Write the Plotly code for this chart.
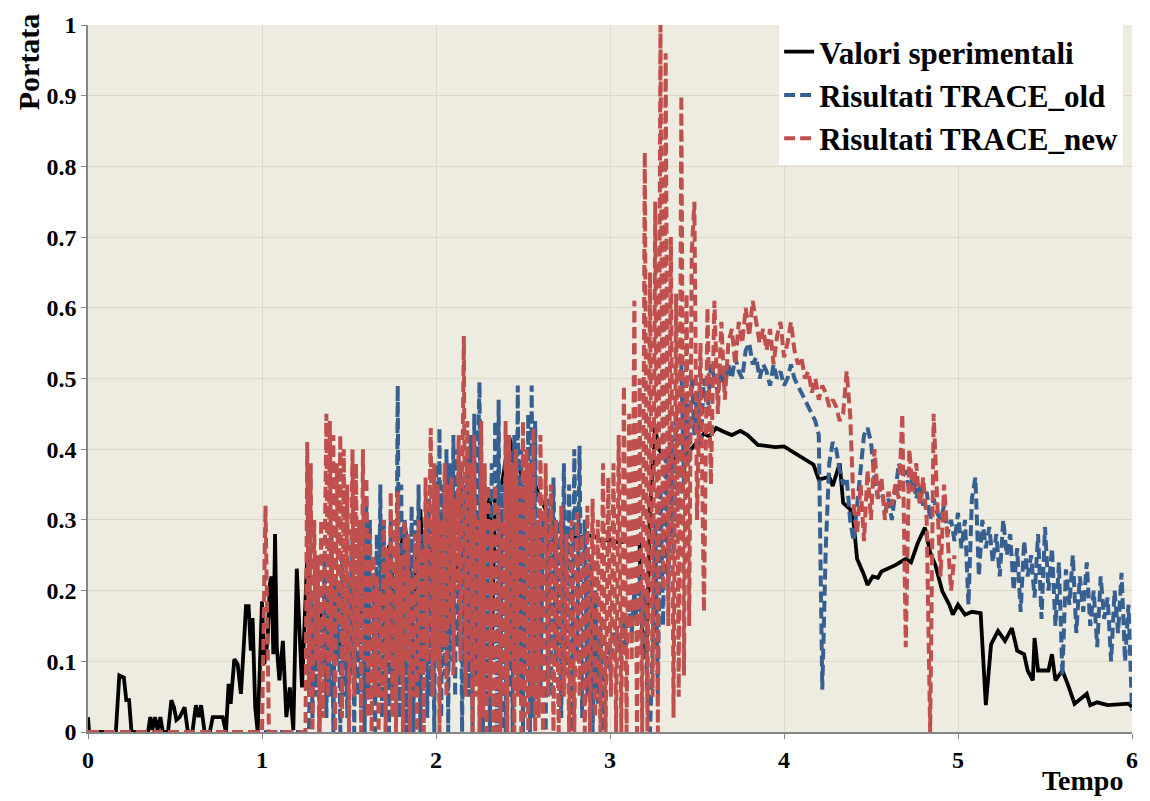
import numpy as np
import plotly.graph_objects as go

# ---------------- Valori sperimentali (solid black) ----------------
t_exp = [0.0, 0.006, 0.16, 0.18, 0.206, 0.22, 0.236, 0.25, 0.345, 0.358, 0.37, 0.385, 0.4, 0.416,
         0.43, 0.46, 0.479, 0.494, 0.508, 0.527, 0.555, 0.574, 0.6, 0.62, 0.636, 0.65, 0.67, 0.7,
         0.717, 0.774, 0.793, 0.808, 0.82, 0.841, 0.86, 0.879, 0.898, 0.908, 0.923, 0.936, 0.946,
         0.961, 0.975, 1.0, 1.013, 1.032, 1.045, 1.055, 1.065, 1.075, 1.085, 1.1, 1.12, 1.14, 1.16,
         1.18, 1.2, 1.23, 1.26, 1.28, 1.32, 1.38, 1.42, 1.46, 1.49, 1.53, 1.58, 1.62, 1.65, 1.68,
         1.7, 1.73, 1.76, 1.82, 1.84, 1.87, 1.91, 1.93, 1.98, 2.02, 2.04, 2.1, 2.16, 2.23, 2.27,
         2.29, 2.31, 2.32, 2.34, 2.38, 2.42, 2.45, 2.49, 2.55, 2.6, 2.66, 2.74, 2.8, 2.9, 2.95,
         3.0, 3.05, 3.1, 3.17, 3.19, 3.21, 3.23, 3.26, 3.28, 3.31, 3.35, 3.39, 3.45, 3.5, 3.54,
         3.57, 3.61, 3.65, 3.7, 3.75, 3.79, 3.85, 3.9, 3.95, 4.0, 4.07, 4.12, 4.17, 4.2, 4.26,
         4.28, 4.32, 4.34, 4.38, 4.4, 4.42, 4.46, 4.48, 4.51, 4.54, 4.56, 4.64, 4.7, 4.73, 4.77,
         4.81, 4.84, 4.87, 4.91, 4.95, 4.97, 5.0, 5.04, 5.08, 5.13, 5.16, 5.19, 5.23, 5.27, 5.31,
         5.34, 5.38, 5.4, 5.43, 5.44, 5.46, 5.52, 5.54, 5.56, 5.6, 5.63, 5.67, 5.74, 5.76, 5.8,
         5.86, 5.98, 6.0]
q_exp = [0.021, 0.0, 0.0, 0.08, 0.077, 0.045, 0.045, 0.0, 0.0, 0.021, 0.003, 0.021, 0.003, 0.021,
         0.0, 0.0, 0.045, 0.035, 0.017, 0.021, 0.035, 0.0, 0.0, 0.038, 0.021, 0.038, 0.0, 0.0,
         0.021, 0.021, 0.0, 0.068, 0.04, 0.103, 0.096, 0.054, 0.133, 0.178, 0.178, 0.115, 0.161,
         0.035, 0.0, 0.185, 0.096, 0.129, 0.21, 0.22, 0.11, 0.28, 0.12, 0.073, 0.129, 0.021, 0.063,
         0.003, 0.231, 0.063, 0.25, 0.166, 0.161, 0.175, 0.11, 0.134, 0.11, 0.157, 0.17, 0.129, 0.11, 0.17,
         0.212, 0.264, 0.194, 0.296, 0.25, 0.175, 0.315, 0.212, 0.269, 0.19, 0.285, 0.222, 0.255, 0.287, 0.273,
         0.287, 0.34, 0.11, 0.343, 0.352, 0.418, 0.39, 0.364, 0.362, 0.33, 0.3, 0.278, 0.275, 0.278, 0.27,
         0.272, 0.268, 0.27, 0.265, 0.105, 0.11, 0.317, 0.43, 0.4, 0.39, 0.39, 0.385, 0.395, 0.41, 0.422,
         0.418, 0.43, 0.425, 0.42, 0.426, 0.42, 0.406, 0.405, 0.403, 0.404, 0.393, 0.385, 0.378, 0.357, 0.361,
         0.348, 0.38, 0.324, 0.315, 0.296, 0.245, 0.222, 0.208, 0.22, 0.218, 0.227, 0.236, 0.245, 0.24, 0.268,
         0.289, 0.254, 0.236, 0.199, 0.18, 0.166, 0.18, 0.166, 0.17, 0.168, 0.038, 0.124, 0.143, 0.129, 0.147,
         0.115, 0.11, 0.087, 0.073, 0.133, 0.087, 0.087, 0.11, 0.073, 0.087, 0.068, 0.04, 0.054, 0.038, 0.042,
         0.038, 0.04, 0.035]

# ---------------- Risultati TRACE_old (blue dashed) ----------------
t_old_start = [0.0, 1.27]
q_old_start = [0.0, 0.0]

q_old_a = [  # 1.28 .. 2.60, step 0.01
    0.2, 0.02, 0.18, 0.05, 0.22, 0.0, 0.15, 0.08, 0.25, 0.02,
    0.2, 0.05, 0.28, 0.0, 0.22, 0.1, 0.2, 0.0, 0.25, 0.05,
    0.18, 0.02, 0.22, 0.08, 0.28, 0.0, 0.2, 0.05, 0.3, 0.02,
    0.25, 0.0, 0.33, 0.05, 0.3, 0.1, 0.22, 0.0, 0.28, 0.05,
    0.35, 0.02, 0.3, 0.08, 0.25, 0.0, 0.3, 0.05, 0.2, 0.1,
    0.49, 0.02, 0.35, 0.1, 0.3, 0.0, 0.28, 0.05, 0.32, 0.0,
    0.3, 0.05, 0.35, 0.0, 0.28, 0.1, 0.3, 0.02, 0.33, 0.05,
    0.3, 0.0, 0.38, 0.1, 0.43, 0.02, 0.35, 0.08, 0.4, 0.0,
    0.38, 0.1, 0.42, 0.05, 0.4, 0.12, 0.38, 0.0, 0.35, 0.1,
    0.4, 0.05, 0.42, 0.0, 0.45, 0.08, 0.38, 0.495, 0.1, 0.0,
    0.35, 0.05, 0.3, 0.0, 0.38, 0.1, 0.44, 0.0, 0.47, 0.02,
    0.35, 0.0, 0.0, 0.3, 0.05, 0.4, 0.0, 0.42, 0.1, 0.49,
    0.05, 0.4, 0.0, 0.35, 0.08, 0.45, 0.0, 0.49, 0.02, 0.44,
    0.1, 0.3, 0.05]

q_old_b = [  # 2.615 .. 3.50, step 0.015
    0.3, 0.0, 0.33, 0.05, 0.36, 0.1, 0.3, 0.02, 0.38,
    0.08, 0.35, 0.0, 0.4, 0.1, 0.405, 0.02, 0.3, 0.05, 0.25,
    0.0, 0.2, 0.04, 0.15, 0.0, 0.1, 0.12, 0.08, 0.14, 0.13,
    0.14, 0.1, 0.16, 0.12, 0.18, 0.14, 0.2, 0.15, 0.22, 0.15,
    0.2, 0.05, 0.0, 0.12, 0.3, 0.05, 0.35, 0.15, 0.4, 0.2,
    0.42, 0.25, 0.45, 0.3, 0.52, 0.35, 0.48, 0.38, 0.5, 0.42,
    0.48]

q_old_c = [  # 3.52 .. 6.00, step 0.02
    0.4, 0.5, 0.45, 0.52, 0.5, 0.48, 0.51, 0.49, 0.52,
    0.5, 0.53, 0.51, 0.5, 0.54, 0.55, 0.52, 0.53, 0.5, 0.52,
    0.51, 0.49, 0.52, 0.5, 0.51, 0.49, 0.5, 0.52, 0.5, 0.49,
    0.48, 0.47, 0.46, 0.45, 0.44, 0.42, 0.06, 0.26, 0.38, 0.41,
    0.4, 0.37, 0.35, 0.36, 0.3, 0.27, 0.32, 0.38, 0.42, 0.43,
    0.41, 0.36, 0.33, 0.35, 0.31, 0.33, 0.3, 0.34, 0.38, 0.36,
    0.37, 0.34, 0.36, 0.33, 0.35, 0.32, 0.34, 0.3, 0.33, 0.31,
    0.3, 0.32, 0.28, 0.3, 0.27, 0.31, 0.26, 0.3, 0.18, 0.33,
    0.36, 0.22, 0.3, 0.26, 0.29, 0.24, 0.28, 0.22, 0.3, 0.25,
    0.28, 0.2, 0.26, 0.17, 0.27, 0.22, 0.25, 0.19, 0.28, 0.16,
    0.29, 0.2, 0.26, 0.15, 0.24, 0.08, 0.23, 0.18, 0.25, 0.14,
    0.22, 0.17, 0.24, 0.15, 0.2, 0.12, 0.22, 0.16, 0.19, 0.1,
    0.2, 0.14, 0.225, 0.1, 0.18, 0.03]

# ---------------- Risultati TRACE_new (red dashed) ----------------
t_new_start = [0.0, 1.0, 1.02, 1.04, 1.25]
q_new_start = [0.0, 0.0, 0.32, 0.0, 0.0]

q_new_a = [  # 1.26 .. 2.60, step 0.01
    0.41, 0.05, 0.38, 0.0, 0.3, 0.1, 0.25, 0.0, 0.3, 0.02,
    0.22, 0.45, 0.05, 0.44, 0.1, 0.42, 0.0, 0.38, 0.15, 0.42,
    0.02, 0.4, 0.1, 0.35, 0.0, 0.2, 0.4, 0.05, 0.38, 0.12,
    0.3, 0.0, 0.4, 0.1, 0.36, 0.02, 0.28, 0.0, 0.25, 0.05,
    0.22, 0.0, 0.2, 0.05, 0.3, 0.0, 0.26, 0.1, 0.34, 0.02,
    0.3, 0.0, 0.34, 0.08, 0.25, 0.0, 0.3, 0.1, 0.28, 0.0,
    0.22, 0.05, 0.28, 0.0, 0.3, 0.08, 0.26, 0.0, 0.36, 0.1,
    0.33, 0.43, 0.05, 0.38, 0.1, 0.35, 0.0, 0.3, 0.12, 0.38,
    0.05, 0.35, 0.15, 0.36, 0.08, 0.33, 0.2, 0.42, 0.1, 0.3,
    0.56, 0.05, 0.44, 0.1, 0.38, 0.0, 0.42, 0.05, 0.3, 0.0,
    0.44, 0.02, 0.38, 0.0, 0.35, 0.05, 0.3, 0.0, 0.35, 0.0,
    0.32, 0.0, 0.3, 0.05, 0.44, 0.0, 0.42, 0.1, 0.38, 0.0,
    0.4, 0.05, 0.35, 0.0, 0.44, 0.02, 0.4, 0.0, 0.38, 0.05,
    0.43, 0.0, 0.3, 0.02, 0.42]

q_new_b = [  # 2.615 .. 3.50, step 0.015
    0.0, 0.38, 0.05, 0.35, 0.0, 0.3, 0.0, 0.32, 0.05,
    0.28, 0.0, 0.3, 0.0, 0.31, 0.05, 0.28, 0.0, 0.32, 0.0,
    0.33, 0.02, 0.3, 0.0, 0.38, 0.0, 0.36, 0.05, 0.38, 0.0,
    0.42, 0.0, 0.49, 0.0, 0.45, 0.1, 0.61, 0.0, 0.5, 0.0,
    0.82, 0.0, 0.65, 0.05, 0.75, 0.0, 1.0, 0.2, 0.96, 0.15,
    0.7, 0.02, 0.62, 0.05, 0.9, 0.08, 0.62, 0.15, 0.68, 0.75,
    0.3]

q_new_c = [  # 3.52 .. 4.98, step 0.02
    0.55, 0.17, 0.6, 0.35, 0.61, 0.45, 0.58, 0.47, 0.55,
    0.57, 0.52, 0.58, 0.55, 0.6, 0.56, 0.61, 0.58, 0.55, 0.57,
    0.54, 0.57, 0.52, 0.56, 0.58, 0.53, 0.55, 0.58, 0.54, 0.52,
    0.53, 0.5, 0.51, 0.48, 0.5, 0.47, 0.49, 0.48, 0.46, 0.47,
    0.46, 0.44, 0.45, 0.51, 0.45, 0.32, 0.28, 0.35, 0.27, 0.37,
    0.3, 0.4, 0.33, 0.36, 0.3, 0.34, 0.32, 0.35, 0.33, 0.45,
    0.12, 0.4, 0.34, 0.38, 0.32, 0.36, 0.3, 0.0, 0.45, 0.33,
    0.22, 0.35, 0.28, 0.2, 0.25]


def time_grid(t_first, step, values):
    """Sampling instants for a uniformly sampled block of values."""
    return list(np.round(t_first + step * np.arange(len(values)), 4))


t_old = (t_old_start + time_grid(1.28, 0.01, q_old_a)
         + time_grid(2.615, 0.015, q_old_b) + time_grid(3.52, 0.02, q_old_c))
q_old = q_old_start + q_old_a + q_old_b + q_old_c

t_new = (t_new_start + time_grid(1.26, 0.01, q_new_a)
         + time_grid(2.615, 0.015, q_new_b) + time_grid(3.52, 0.02, q_new_c))
q_new = q_new_start + q_new_a + q_new_b + q_new_c

SERIF = "Liberation Serif, Times New Roman, serif"
BLACK = "#000000"
BLUE = "#376092"
RED = "#C0504D"
DASH = "11px,5px"

fig = go.Figure()
fig.add_trace(go.Scatter(x=t_exp, y=q_exp, mode="lines", name="Valori sperimentali",
                         line=dict(color=BLACK, width=3.8)))
fig.add_trace(go.Scatter(x=t_old, y=q_old, mode="lines", name="Risultati TRACE_old",
                         line=dict(color=BLUE, width=4, dash=DASH)))
fig.add_trace(go.Scatter(x=t_new, y=q_new, mode="lines", name="Risultati TRACE_new",
                         line=dict(color=RED, width=4, dash=DASH)))

y_ticks = [0, 0.1, 0.2, 0.3, 0.4, 0.5, 0.6, 0.7, 0.8, 0.9, 1]
y_labels = ["0", "0.1", "0.2", "0.3", "0.4", "0.5", "0.6", "0.7", "0.8", "0.9", "1"]
x_ticks = [0, 1, 2, 3, 4, 5, 6]

axis_common = dict(
    showgrid=True, gridcolor="#DDD9C3", gridwidth=1,
    showline=True, linecolor="#868686", linewidth=1.5,
    ticks="outside", ticklen=5, tickcolor="#868686",
    zeroline=False,
    tickfont=dict(family=SERIF, size=24, color="black", weight="bold"),
)

fig.update_layout(
    width=1150, height=801,
    margin=dict(l=88, r=14, t=17, b=69),
    paper_bgcolor="white",
    plot_bgcolor="#EEECE1",
    font=dict(family=SERIF, color="black"),
    showlegend=True,
    legend=dict(
        x=0.662, y=1.0, xanchor="left", yanchor="top",
        bgcolor="white", borderwidth=0,
        font=dict(family=SERIF, size=31, color="black", weight="bold"),
        tracegroupgap=0,
    ),
    xaxis=dict(range=[0, 6], tickvals=x_ticks, ticktext=[str(v) for v in x_ticks],
               **axis_common),
    yaxis=dict(range=[0, 1], tickvals=y_ticks, ticktext=y_labels, **axis_common),
    annotations=[
        dict(text="Portata", xref="paper", yref="paper", x=-0.057, y=0.948,
             textangle=-90, showarrow=False, xanchor="center", yanchor="middle",
             font=dict(family=SERIF, size=30, color="black", weight="bold")),
        dict(text="Tempo", xref="paper", yref="paper", x=0.953, y=-0.094,
             showarrow=False, xanchor="center", yanchor="bottom",
             font=dict(family=SERIF, size=28, color="black", weight="bold")),
    ],
)

fig.write_html("out.html")
